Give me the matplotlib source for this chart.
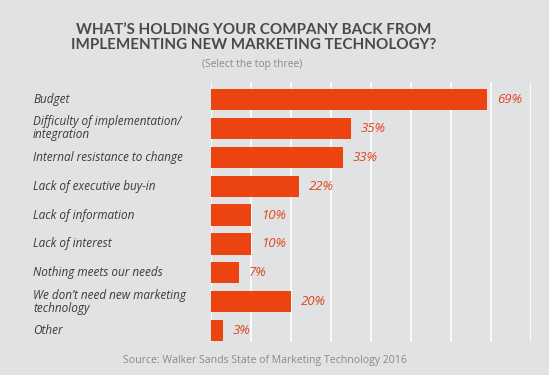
import numpy as np
import matplotlib.pyplot as plt

# data
labels = ['Budget',
          'Difficulty of implementation/\nintegration',
          'Internal resistance to change',
          'Lack of executive buy-in',
          'Lack of information',
          'Lack of interest',
          'Nothing meets our needs',
          'We don\u2019t need new marketing\ntechnology',
          'Other']
values = [69, 35, 33, 22, 10, 10, 7, 20, 3]

bg = '#e1e2e4'
bar_col = '#eb4410'
txt_col = '#3b3b3b'

plt.rcParams['font.family'] = ['Open Sans', 'DejaVu Sans']

fig = plt.figure(figsize=(5.49, 3.75), dpi=100, facecolor=bg)
W, H = 549, 375
ax = fig.add_axes([211 / W, 1 - 342 / H, 320 / W, 260 / H])
ax.set_facecolor(bg)

y = np.arange(len(values))
ax.barh(y, values, height=0.73, color=bar_col, zorder=3)
ax.set_xlim(0, 80)
ax.set_ylim(8.39, -0.6)
ax.set_xticks(np.arange(0, 81, 10))
ax.xaxis.grid(True, color='white', linewidth=1.2, zorder=0)
ax.tick_params(length=0, labelbottom=False, labelleft=False)
for s in ax.spines.values():
    s.set_visible(False)

for yi, v in zip(y, values):
    ax.text(v + 2.5, yi, f'{v}%', va='center', ha='left', fontsize=9.5,
            style='italic', color='#e0461c')

# category labels in figure coordinates, aligned with bar centres
for yi, lab in zip(y, labels):
    py = ax.transData.transform((0, yi))[1] / H
    fig.text(33 / W, py, lab, ha='left', va='center', fontsize=8.5,
             style='italic', color=txt_col, linespacing=1.0)

fig.text(254 / W, 1 - 37.5 / H,
         'WHAT\u2019S HOLDING YOUR COMPANY BACK FROM\nIMPLEMENTING NEW MARKETING TECHNOLOGY?',
         ha='center', va='center', fontsize=10.9, fontweight='bold',
         color='#4d4845', family=['Lato', 'DejaVu Sans'], linespacing=1.15)
fig.text(252 / W, 1 - 65 / H, '(Select the top three)', ha='center', va='center',
         fontsize=7.4, color='#8a8a8a')
fig.text(265 / W, 1 - 361 / H, 'Source: Walker Sands State of Marketing Technology 2016',
         ha='center', va='center', fontsize=7.6, color='#8a8a8a')

fig.savefig('out.png', dpi=100, facecolor=bg)
